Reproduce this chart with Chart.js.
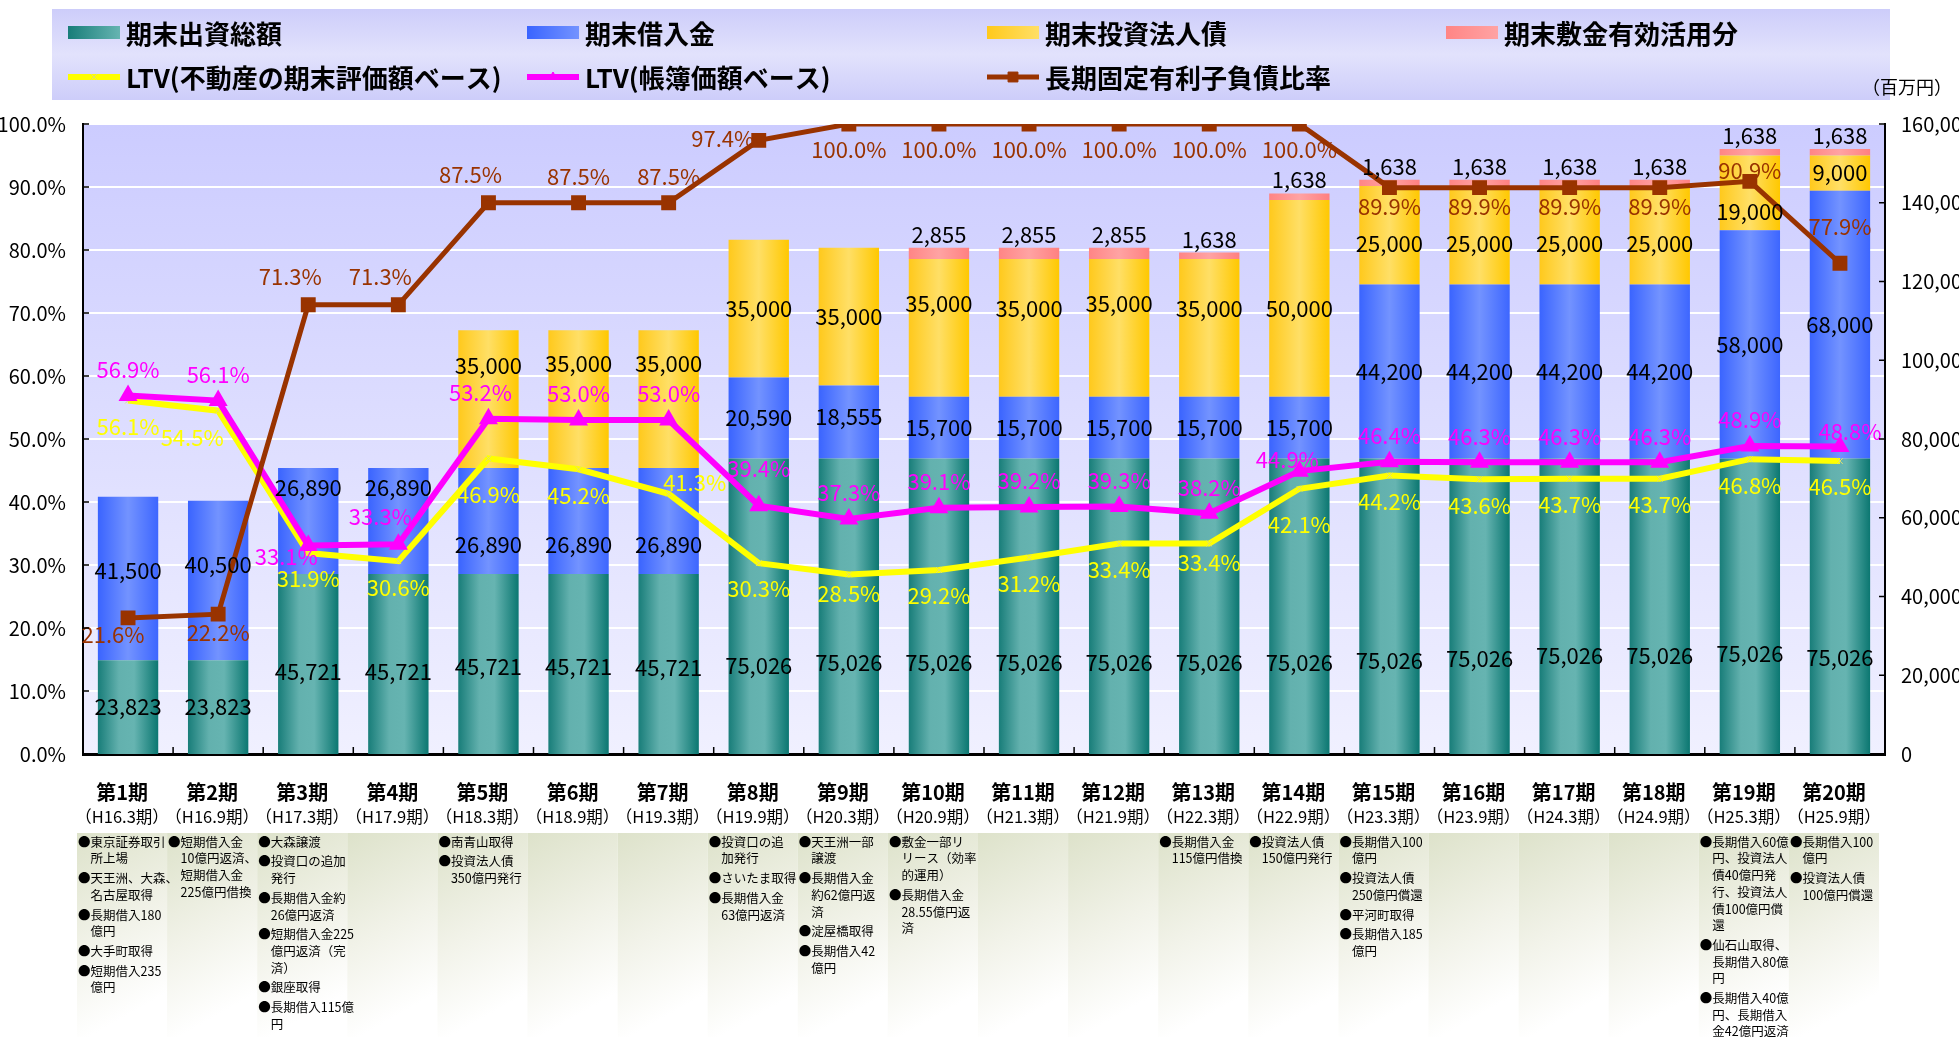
<!DOCTYPE html>
<html>
<head>
<meta charset="utf-8">
<script src="https://cdn.jsdelivr.net/npm/chart.js@4.4.1/dist/chart.umd.min.js"></script>
<style>
  html, body { margin: 0; padding: 0; background: #fff; overflow: hidden; }
  canvas { display: block; }
</style>
</head>
<body>
<canvas id="jsChart" width="1959" height="1037"></canvas>
<script>
// categories
const periods = ['第1期', '第2期', '第3期', '第4期', '第5期', '第6期', '第7期', '第8期', '第9期', '第10期',
  '第11期', '第12期', '第13期', '第14期', '第15期', '第16期', '第17期', '第18期', '第19期', '第20期'];
const terms = ['（H16.3期）', '（H16.9期）', '（H17.3期）', '（H17.9期）', '（H18.3期）', '（H18.9期）', '（H19.3期）',
  '（H19.9期）', '（H20.3期）', '（H20.9期）', '（H21.3期）', '（H21.9期）', '（H22.3期）', '（H22.9期）',
  '（H23.3期）', '（H23.9期）', '（H24.3期）', '（H24.9期）', '（H25.3期）', '（H25.9期）'];

// bars (百万円)
const equity = [23823, 23823, 45721, 45721, 45721, 45721, 45721, 75026, 75026, 75026,
  75026, 75026, 75026, 75026, 75026, 75026, 75026, 75026, 75026, 75026];
const loans = [41500, 40500, 26890, 26890, 26890, 26890, 26890, 20590, 18555, 15700,
  15700, 15700, 15700, 15700, 44200, 44200, 44200, 44200, 58000, 68000];
const bonds = [0, 0, 0, 0, 35000, 35000, 35000, 35000, 35000, 35000,
  35000, 35000, 35000, 50000, 25000, 25000, 25000, 25000, 19000, 9000];
const deposits = [0, 0, 0, 0, 0, 0, 0, 0, 0, 2855,
  2855, 2855, 1638, 1638, 1638, 1638, 1638, 1638, 1638, 1638];

// lines (%)
const ltvAppraisal = [56.1, 54.5, 31.9, 30.6, 46.9, 45.2, 41.3, 30.3, 28.5, 29.2,
  31.2, 33.4, 33.4, 42.1, 44.2, 43.6, 43.7, 43.7, 46.8, 46.5];
const ltvBook = [56.9, 56.1, 33.1, 33.3, 53.2, 53.0, 53.0, 39.4, 37.3, 39.1,
  39.2, 39.3, 38.2, 44.9, 46.4, 46.3, 46.3, 46.3, 48.9, 48.8];
const fixedRatio = [21.6, 22.2, 71.3, 71.3, 87.5, 87.5, 87.5, 97.4, 100, 100,
  100, 100, 100, 100, 89.9, 89.9, 89.9, 89.9, 90.9, 77.9];

// notes under each period
const notes = [
  [['東京証券取引', '所上場'], ['天王洲、大森、', '名古屋取得'], ['長期借入180', '億円'], ['大手町取得'], ['短期借入235', '億円']],
  [['短期借入金', '10億円返済、', '短期借入金', '225億円借換']],
  [['大森譲渡'], ['投資口の追加', '発行'], ['長期借入金約', '26億円返済'], ['短期借入金225', '億円返済（完', '済）'], ['銀座取得'], ['長期借入115億', '円']],
  [],
  [['南青山取得'], ['投資法人債', '350億円発行']],
  [],
  [],
  [['投資口の追', '加発行'], ['さいたま取得'], ['長期借入金', '63億円返済']],
  [['天王洲一部', '譲渡'], ['長期借入金', '約62億円返', '済'], ['淀屋橋取得'], ['長期借入42', '億円']],
  [['敷金一部リ', 'リース（効率', '的運用）'], ['長期借入金', '28.55億円返', '済']],
  [],
  [],
  [['長期借入金', '115億円借換']],
  [['投資法人債', '150億円発行']],
  [['長期借入100', '億円'], ['投資法人債', '250億円償還'], ['平河町取得'], ['長期借入185', '億円']],
  [],
  [],
  [],
  [['長期借入60億', '円、投資法人', '債40億円発', '行、投資法人', '債100億円償', '還'], ['仙石山取得、', '長期借入80億', '円'], ['長期借入40億', '円、長期借入', '金42億円返済']],
  [['長期借入100', '億円'], ['投資法人債', '100億円償還']],
];

// label placement: line labels by code, bar labels nudged vertically (px)
const appraisalPos = ['B', 'BL', 'B', 'B', 'BB', 'B', 'R', 'B', 'b', 'B', 'B', 'B', 'b', 'BB', 'B', 'B', 'B', 'B', 'B', 'B'];
const bookPos = ['T', 'T', 'Lb', 'Tl', 'Tn', 'T', 'T', 'TT', 'T', 'T', 'T', 'T', 'T', 'Lt', 'T', 'T', 'T', 'T', 'T', 'Rt'];
const fixedPos = ['Bl', 'b', 'Tl', 'Tl', 'Tl', 'T', 'T', 'L', 'B', 'B', 'B', 'B', 'B', 'B', 'b', 'b', 'b', 'b', 'Tm', 'TT'];
const SHIFT = {
  b: [0, 19], B: [0, 26], BB: [0, 36], Bl: [-15, 17], BL: [-26, 27],
  T: [0, -26], Tn: [-8, -26], TT: [0, -37], Tl: [-18, -28], Tm: [0, -11],
  L: [-36, -2], R: [26, -11], Lb: [-22, 11], Lt: [-12, -11], Rt: [10, -15],
};
const equityNudge = [0, 0, 8, 8, 3, 3, 4, 59, 56, 56, 56, 56, 56, 56, 54, 52, 49, 49, 47, 51];
const loansNudge = [-8, -16, -33, -33, 24, 24, 24, 0, -5, 0, 0, 0, 0, 0, 0, 0, 0, 0, 0, 0];
const bondsNudge = [0, 0, 0, 0, -34, -36, -36, 0, 0, -24, -19, -24, -19, 10, 8, 8, 8, 8, 19, 0];

const NUM = '"Liberation Sans Narrow", "Noto Sans CJK JP"';
const BAR_PCT = 0.67;

const tealStops = [[0, '#187d79'], [0.35, '#63b1ae'], [0.6, '#66b4b1'], [1, '#0b7771']];
const blueStops = [[0, '#3a64ff'], [0.5, '#7393ff'], [1, '#3d66ff']];
const goldStops = [[0, '#ffc91c'], [0.5, '#ffdf66'], [1, '#ffc800']];
const pinkStops = [[0, '#ff8585'], [0.5, '#ffa3a3'], [1, '#ff8080']];

function barFill(stops) {
  return (c) => {
    const chart = c.chart;
    const xs = chart.scales.x;
    if (!chart.chartArea || c.type !== 'data' || !xs) return stops[1][1];
    const cx = xs.getPixelForValue(c.dataIndex);
    const half = (xs.width / periods.length) * BAR_PCT / 2;
    const g = chart.ctx.createLinearGradient(cx - half, 0, cx + half, 0);
    stops.forEach(([o, col]) => g.addColorStop(o, col));
    return g;
  };
}

const bgPlugin = {
  id: 'bg',
  beforeDraw(chart) {
    const { ctx, chartArea: a } = chart;
    ctx.save();
    // legend box
    const lg = ctx.createLinearGradient(0, 9, 0, 100);
    lg.addColorStop(0, '#cdcdfa');
    lg.addColorStop(0.5, '#e2e2fc');
    lg.addColorStop(1, '#cdcdfa');
    ctx.fillStyle = lg;
    ctx.fillRect(52, 9, 1838, 91);
    // plot area
    const g = ctx.createLinearGradient(0, a.top, 0, a.bottom);
    g.addColorStop(0, '#ccccff');
    g.addColorStop(1, '#f0f0ff');
    ctx.fillStyle = g;
    ctx.fillRect(a.left, a.top, a.right - a.left, a.bottom - a.top);
    ctx.restore();
  }
};

const labelPlugin = {
  id: 'valueLabels',
  afterDatasetsDraw(chart) {
    const ctx = chart.ctx;
    ctx.save();
    ctx.font = '22px ' + NUM;
    ctx.textAlign = 'center';
    chart.data.datasets.forEach((ds, di) => {
      const meta = chart.getDatasetMeta(di);
      meta.data.forEach((el, i) => {
        const v = ds.data[i];
        if (!v) return;
        if (ds.type === 'line') {
          const [dx, dy] = SHIFT[ds.labelPos[i]];
          ctx.fillStyle = ds.borderColor;
          ctx.textBaseline = 'middle';
          ctx.fillText(v.toFixed(1) + '%', el.x + dx, el.y + dy);
        } else if (ds.labelOnTop) {
          ctx.fillStyle = '#000';
          ctx.textBaseline = 'alphabetic';
          ctx.fillText(v.toLocaleString('en-US'), el.x, el.y - 5);
        } else {
          ctx.fillStyle = '#000';
          ctx.textBaseline = 'middle';
          ctx.fillText(v.toLocaleString('en-US'), el.x, (el.y + el.base) / 2 + ds.nudge[i]);
        }
      });
    });
    ctx.restore();
  }
};

const extrasPlugin = {
  id: 'extras',
  afterDraw(chart) {
    const { ctx, chartArea: a } = chart;
    const xs = chart.scales.x, ys = chart.scales.y, ys2 = chart.scales.y2;
    const w = (a.right - a.left) / periods.length;
    ctx.save();

    // inside tick marks
    ctx.strokeStyle = '#000';
    ctx.lineWidth = 1.5;
    ctx.beginPath();
    ys.ticks.forEach(t => { const y = ys.getPixelForValue(t.value); ctx.moveTo(a.left, y); ctx.lineTo(a.left + 6, y); });
    ys2.ticks.forEach(t => { const y = ys2.getPixelForValue(t.value); ctx.moveTo(a.right, y); ctx.lineTo(a.right - 6, y); });
    for (let i = 1; i < periods.length; i++) {
      const x = a.left + i * w;
      ctx.moveTo(x, a.bottom); ctx.lineTo(x, a.bottom - 7);
    }
    ctx.stroke();

    // second line of the category labels
    ctx.fillStyle = '#000';
    ctx.font = '16.5px ' + NUM;
    ctx.textAlign = 'center';
    ctx.textBaseline = 'middle';
    terms.forEach((t, i) => ctx.fillText(t, xs.getPixelForValue(i) - 6, 817));

    // notes: backgrounds first, then text
    const top = 833, bottom = chart.height;
    notes.forEach((items, i) => {
      const left = xs.getPixelForValue(i) - w / 2 - 6;
      const g = ctx.createLinearGradient(left, top, left + w, top + 160);
      g.addColorStop(0, '#dde2ca');
      g.addColorStop(0.55, '#f1f2e8');
      g.addColorStop(1, '#ffffff');
      ctx.fillStyle = g;
      ctx.fillRect(left, top, w, bottom - top);
    });
    ctx.fillStyle = '#000';
    ctx.font = '12.5px ' + NUM;
    ctx.textAlign = 'left';
    const bw = ctx.measureText('●').width;
    notes.forEach((items, i) => {
      const left = xs.getPixelForValue(i) - w / 2 - 6;
      let y = 842;
      items.forEach(lines => {
        lines.forEach((ln, k) => {
          if (k === 0) ctx.fillText('●' + ln, left + 1, y);
          else ctx.fillText(ln, left + 1 + bw, y);
          y += 16.7;
        });
        y += 3;
      });
    });

    // legend
    const ds = chart.data.datasets;
    const byKey = k => ds.find(d => d.key === k);
    const cols = [68, 527, 987, 1446];
    const rows = [33, 77];
    const legendItems = [
      [byKey('equity'), 0, 0], [byKey('loans'), 1, 0], [byKey('bonds'), 2, 0], [byKey('deposits'), 3, 0],
      [byKey('appraisal'), 0, 1], [byKey('book'), 1, 1], [byKey('fixed'), 2, 1],
    ];
    legendItems.forEach(([d, c, r]) => {
      const x = cols[c], y = rows[r];
      if (d.type === 'line') {
        ctx.strokeStyle = d.borderColor;
        ctx.lineWidth = d.borderWidth;
        ctx.beginPath(); ctx.moveTo(x, y); ctx.lineTo(x + 52, y); ctx.stroke();
        ctx.fillStyle = d.pointBackgroundColor;
        ctx.strokeStyle = d.pointBorderColor;
        ctx.lineWidth = 1;
        Chart.helpers.drawPoint(ctx, { pointStyle: d.pointStyle, radius: d.pointRadius, borderWidth: 1, rotation: 0 }, x + 26, y);
      } else {
        const g = ctx.createLinearGradient(x, 0, x + 52, 0);
        g.addColorStop(0, d.stops[0][1]);
        g.addColorStop(1, d.stops[Math.floor(d.stops.length / 2)][1]);
        ctx.fillStyle = g;
        ctx.fillRect(x, y - 7, 52, 13);
      }
      ctx.fillStyle = '#000';
      ctx.font = 'bold 26px ' + NUM;
      ctx.textAlign = 'left';
      ctx.textBaseline = 'middle';
      ctx.fillText(d.label, x + 58, y + 1);
    });
    ctx.font = '18px ' + NUM;
    ctx.fillText('（百万円）', 1862, 87);
    ctx.restore();
  }
};

const ctx = document.getElementById('jsChart');

new Chart(ctx, {
  type: 'bar',
  data: {
    labels: periods,
    datasets: [
      {
        key: 'fixed', type: 'line', label: '長期固定有利子負債比率', data: fixedRatio, yAxisID: 'y', order: 0,
        borderColor: '#993300', borderWidth: 5, pointStyle: 'rect', pointRadius: 7,
        pointBackgroundColor: '#993300', pointBorderColor: '#993300', tension: 0, labelPos: fixedPos,
      },
      {
        key: 'book', type: 'line', label: 'LTV(帳簿価額ベース)', data: ltvBook, yAxisID: 'y', order: 1,
        borderColor: '#ff00ff', borderWidth: 6, pointStyle: 'triangle', pointRadius: 5,
        pointBackgroundColor: '#ff00ff', pointBorderColor: '#ff00ff', tension: 0, labelPos: bookPos,
      },
      {
        key: 'appraisal', type: 'line', label: 'LTV(不動産の期末評価額ベース)', data: ltvAppraisal, yAxisID: 'y', order: 2,
        borderColor: '#ffff00', borderWidth: 6, pointStyle: 'crossRot', pointRadius: 4, pointBorderWidth: 1,
        pointBackgroundColor: '#ffff99', pointBorderColor: '#e0e070', tension: 0, labelPos: appraisalPos,
      },
      { key: 'equity', label: '期末出資総額', data: equity, yAxisID: 'y2', order: 5, stops: tealStops, nudge: equityNudge, backgroundColor: barFill(tealStops) },
      { key: 'loans', label: '期末借入金', data: loans, yAxisID: 'y2', order: 6, stops: blueStops, nudge: loansNudge, backgroundColor: barFill(blueStops) },
      { key: 'bonds', label: '期末投資法人債', data: bonds, yAxisID: 'y2', order: 7, stops: goldStops, nudge: bondsNudge, backgroundColor: barFill(goldStops) },
      { key: 'deposits', label: '期末敷金有効活用分', data: deposits, yAxisID: 'y2', order: 8, stops: pinkStops, backgroundColor: barFill(pinkStops), labelOnTop: true },
    ],
  },
  options: {
    responsive: false,
    animation: false,
    devicePixelRatio: 1,
    events: [],
    datasets: { bar: { barPercentage: BAR_PCT, categoryPercentage: 1 } },
    layout: { padding: { top: 124, left: 0, right: 0, bottom: 0 } },
    plugins: { legend: { display: false }, tooltip: { enabled: false } },
    scales: {
      x: {
        stacked: true,
        grid: { display: false, drawTicks: false },
        border: { display: true, color: '#000', width: 3 },
        ticks: { color: '#000', font: { family: NUM, size: 20, weight: 'bold' }, padding: 26, labelOffset: -6, maxRotation: 0, autoSkip: false },
        afterFit(s) { s.height = 283; },
      },
      y: {
        position: 'left', min: 0, max: 100,
        grid: { color: '#ffffff', lineWidth: 2, drawTicks: false },
        border: { display: true, color: '#000', width: 2 },
        ticks: { stepSize: 10, color: '#000', font: { family: NUM, size: 20 }, padding: 17, callback: v => v.toFixed(1) + '%' },
        afterFit(s) { s.width = 83; },
      },
      y2: {
        position: 'right', stacked: true, min: 0, max: 160000,
        grid: { display: false, drawTicks: false },
        border: { display: true, color: '#000', width: 2 },
        ticks: { stepSize: 20000, color: '#000', font: { family: NUM, size: 20 }, padding: 16, callback: v => v.toLocaleString('en-US') },
        afterFit(s) { s.width = 74; },
      },
    },
  },
  plugins: [bgPlugin, labelPlugin, extrasPlugin],
});
</script>
</body>
</html>
